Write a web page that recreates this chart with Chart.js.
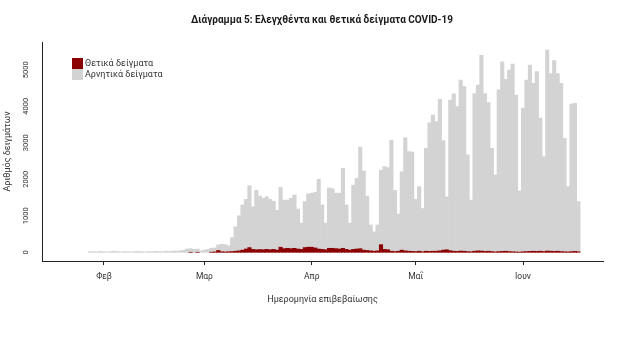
<!DOCTYPE html>
<html>
<head>
<meta charset="utf-8">
<script src="https://cdn.jsdelivr.net/npm/chart.js@4.4.1/dist/chart.umd.min.js"></script>
<style>
  html, body { margin: 0; padding: 0; background: #fff; }
  #wrap { width: 636px; height: 342px; }
</style>
</head>
<body>
<div id="wrap"><canvas id="chart" width="636" height="342"></canvas></div>
<script>
// Daily samples from 28 Jan to 17 Jun 2020, x = day of year (1 Jan = 0)
const firstDay = 27;

const positives = [
    0, 0, 0, 0, 0, 0, 0, 0, 0, 0, 0, 0, 0, 0, 0, 0, 0, 0, 0, 0, 0, 0, 0, 0, 0, 0,
    0, 0, 0, 1, 0, 1, 0,
    0, 0, 3, 10, 50, 15, 10, 15, 20, 30, 40, 60, 90, 130, 80, 70, 75, 70, 80, 70, 80, 60,
    140, 100, 110, 100, 110, 90, 80, 130, 140, 140, 120, 90, 80, 70,
    110, 110, 100, 90, 110, 80, 60, 80, 90, 100, 60, 50, 40, 30, 40,
    210, 80, 70, 30, 20, 30, 60, 40, 30, 25, 20, 30, 15,
    30, 25, 30, 30, 40, 60, 70, 45, 30, 25, 35, 30, 20, 15,
    30, 40, 35, 25, 30, 20, 10, 20, 25, 30, 20, 15, 10, 5,
    15, 20, 25, 30, 25, 30, 20, 35, 30, 25, 30, 20, 15, 10, 20, 25, 15
];

const negatives = [
    20, 15, 10, 25, 15, 10, 20, 30, 15, 10, 20, 15, 10, 20, 25, 15, 10, 20, 15, 25, 20, 15, 30, 25, 35, 30,
    40, 60, 90, 99, 80, 89, 40,
    60, 80, 107, 110, 150, 205, 200, 165, 380, 670, 960, 1240, 1360, 1695, 1170, 1630, 1465, 1410, 1440, 1380, 1320, 1090,
    1640, 1330, 1320, 1380, 1460, 1095, 720, 1260, 1460, 1480, 1520, 1910, 1220, 730,
    1650, 1630, 1520, 1530, 2190, 1220, 740, 1760, 1940, 2780, 2170, 1490, 710, 530, 710,
    2040, 2270, 2250, 3040, 1680, 1020, 2150, 3100, 2730, 2725, 1430, 1770, 1185,
    2820, 3525, 3730, 3550, 4150, 3000, 1450, 4125, 4310, 3965, 4685, 4510, 2650, 1415,
    4320, 4540, 5365, 4325, 4070, 2830, 2110, 4430, 5195, 4710, 4970, 5145, 4300, 1675,
    3935, 4700, 5105, 4600, 4925, 3650, 2600, 5505, 4870, 5225, 4870, 4610, 3105, 1790, 4040, 4055, 1375
];

const monthTicks = [31, 60, 91, 121, 152];
const monthLabels = ['Φεβ', 'Μαρ', 'Απρ', 'Μαΐ', 'Ιουν'];
const yTicks = [0, 1000, 2000, 3000, 4000, 5000];
const seriesLabels = ['Θετικά δείγματα', 'Αρνητικά δείγματα'];
const titleText = 'Διάγραμμα 5: Ελεγχθέντα και θετικά δείγματα COVID-19';

const textColor = '#333';
const axisColor = '#222';

// empty days are skipped so no hairline is drawn at zero
function toPoints(values) {
    return values.map((v, i) => ({ x: firstDay + i, y: v > 0 ? v : null }));
}

// title, rotated y labels and the legend box are drawn by hand
const decorations = {
    id: 'decorations',
    afterDraw(chart) {
        const ctx = chart.ctx;
        const yScale = chart.scales.y;
        ctx.save();
        ctx.fillStyle = '#1a1a1a';
        ctx.font = 'bold 10.5px Roboto';
        ctx.textAlign = 'center';
        ctx.textBaseline = 'middle';
        ctx.fillText(titleText, 322, 20, 262);

        ctx.fillStyle = textColor;
        ctx.font = '7.5px Roboto';
        yTicks.forEach(v => {
            ctx.save();
            ctx.translate(26, yScale.getPixelForValue(v));
            ctx.rotate(-Math.PI / 2);
            ctx.fillText(String(v), 0, 0);
            ctx.restore();
        });

        // legend
        ctx.textAlign = 'left';
        ctx.font = '9px Roboto';
        chart.data.datasets.forEach((ds, i) => {
            const top = 58 + i * 11;
            ctx.fillStyle = ds.backgroundColor;
            ctx.fillRect(72, top, 11, 11);
            ctx.fillStyle = textColor;
            ctx.fillText(ds.label, 85, top + 5.5);
        });
        ctx.restore();
    }
};

const ctx = document.getElementById('chart').getContext('2d');

// eslint-disable-next-line no-undef
const chart = new Chart(ctx, {
    type: 'bar',
    data: {
        datasets: [{
            label: seriesLabels[0],
            data: toPoints(positives),
            backgroundColor: '#8b0000',
            borderWidth: 0,
            barPercentage: 1,
            categoryPercentage: 1
        }, {
            label: seriesLabels[1],
            data: toPoints(negatives),
            backgroundColor: '#d3d3d3',
            borderWidth: 0,
            barPercentage: 1,
            categoryPercentage: 1
        }]
    },
    options: {
        responsive: false,
        animation: false,
        layout: { padding: { left: 0, top: 42, right: 33, bottom: 0 } },
        plugins: {
            legend: { display: false },
            title: { display: false },
            tooltip: { enabled: false }
        },
        scales: {
            x: {
                type: 'linear',
                stacked: true,
                offset: false,
                min: 13.1,
                max: 175.1,
                afterBuildTicks: scale => {
                    scale.ticks = monthTicks.map(v => ({ value: v }));
                },
                afterFit: scale => { scale.height = 81; },
                ticks: {
                    color: textColor,
                    font: { family: 'Roboto', size: 8.5 },
                    padding: 7,
                    maxRotation: 0,
                    autoSkip: false,
                    callback: v => monthLabels[monthTicks.indexOf(v)]
                },
                grid: {
                    offset: false,
                    drawOnChartArea: false,
                    drawTicks: true,
                    tickLength: 4,
                    color: axisColor
                },
                border: { display: true, color: axisColor, width: 1 },
                title: {
                    display: true,
                    text: 'Ημερομηνία επιβεβαίωσης',
                    color: textColor,
                    font: { family: 'Roboto', size: 9 },
                    padding: { top: 0, bottom: 37 }
                }
            },
            y: {
                stacked: true,
                min: -238,
                max: 5762,
                afterBuildTicks: scale => {
                    scale.ticks = yTicks.map(v => ({ value: v }));
                },
                afterFit: scale => { scale.width = 42; },
                ticks: { display: false },
                grid: { display: false },
                border: { display: true, color: axisColor, width: 1 },
                title: {
                    display: true,
                    text: 'Αριθμός δειγμάτων',
                    color: textColor,
                    font: { family: 'Roboto', size: 9 },
                    padding: { top: 2, bottom: 0 }
                }
            }
        }
    },
    plugins: [decorations]
});
</script>
</body>
</html>
